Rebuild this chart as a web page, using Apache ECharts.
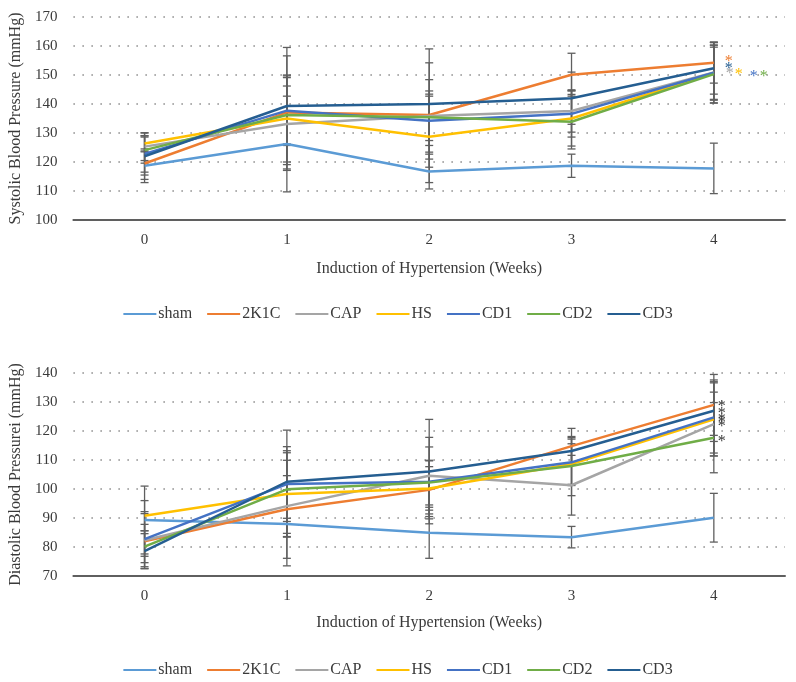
<!DOCTYPE html>
<html>
<head>
<meta charset="utf-8">
<script src="https://cdn.jsdelivr.net/npm/echarts@6/dist/echarts.min.js"></script>
<style>html,body{margin:0;padding:0;background:#fff;}#c{width:796px;height:682px;}</style>
</head>
<body>
<div id="c"></div>
<script>
// ---- data ----
const weeks = ['0', '1', '2', '3', '4'];
const groups = ['sham', '2K1C', 'CAP', 'HS', 'CD1', 'CD2', 'CD3'];
const sysTicks = [100, 110, 120, 130, 140, 150, 160, 170];
const diaTicks = [70, 80, 90, 100, 110, 120, 130, 140];

const sysSham = [118.7, 126.2, 116.7, 118.7, 117.8];
const sys2K1C = [119.5, 137.1, 136.2, 150.1, 154.2];
const sysCAP  = [125.3, 133.1, 135.9, 137.6, 150.9];
const sysHS   = [126.4, 135.0, 128.7, 135.0, 150.6];
const sysCD1  = [122.8, 137.7, 134.2, 136.6, 150.8];
const sysCD2  = [124.1, 136.2, 135.4, 133.9, 150.3];
const sysCD3  = [122.0, 139.3, 140.0, 142.0, 152.3];

const sysSdSham = [5.8, 16.5, 6.0, 4.0, 8.7];
const sysSd2K1C = [4.0, 19.5, 18.0, 7.4, 7.0];
const sysSdCAP  = [4.8, 16.0, 12.5, 7.3, 10.5];
const sysSdHS   = [2.6, 15.0, 15.8, 9.5, 9.0];
const sysSdCD1  = [6.3, 12.0, 8.5, 8.0, 9.5];
const sysSdCD2  = [4.5, 10.0, 8.0, 9.4, 10.0];
const sysSdCD3  = [8.0, 20.2, 19.0, 9.0, 8.9];

const diaSham = [89.3, 87.9, 84.9, 83.4, 90.1];
const dia2K1C = [82.0, 93.0, 99.7, 114.8, 129.0];
const diaCAP  = [82.3, 94.1, 104.6, 101.3, 122.4];
const diaHS   = [90.8, 98.3, 100.2, 108.6, 124.0];
const diaCD1  = [82.7, 101.7, 102.5, 109.2, 124.7];
const diaCD2  = [80.1, 99.9, 102.2, 107.9, 117.7];
const diaCD3  = [78.6, 102.5, 106.0, 113.1, 127.0];

const diaSdSham = [11.7, 11.8, 8.8, 3.7, 8.4];
const diaSd2K1C = [9.5, 19.5, 10.0, 6.1, 10.5];
const diaSdCAP  = [5.5, 10.5, 13.2, 10.3, 11.0];
const diaSdHS   = [5.2, 14.9, 7.5, 7.0, 12.6];
const diaSdCD1  = [9.5, 12.9, 12.0, 8.0, 12.3];
const diaSdCD2  = [5.5, 10.0, 7.7, 10.2, 12.1];
const diaSdCD3  = [6.0, 17.8, 18.0, 4.6, 10.6];

// significance marker at week 4
const sysMarks = ['', '*', '*', '*', '*', '*', '*'];
const diaMarks = ['', '*', '*', '*', '*', '*', '*'];

// ---- styles ----
const colors = ['#5B9BD5', '#ED7D31', '#A5A5A5', '#FFC000', '#4472C4', '#70AD47', '#255E91'];
const sysMarkOffsets = [[0,0], [3,-1], [4,1], [13,2], [28,4], [38,3], [3,0]];
const diaMarkOffsets = [[0,0], [-4,2], [-4,3], [-4,3], [-4,2], [-4,4], [-4,3]];
const font = "'Liberation Serif', 'Times New Roman', serif";
const txt = '#3a3a3a';

const sysMeans = [sysSham, sys2K1C, sysCAP, sysHS, sysCD1, sysCD2, sysCD3];
const sysSds = [sysSdSham, sysSd2K1C, sysSdCAP, sysSdHS, sysSdCD1, sysSdCD2, sysSdCD3];
const diaMeans = [diaSham, dia2K1C, diaCAP, diaHS, diaCD1, diaCD2, diaCD3];
const diaSds = [diaSdSham, diaSd2K1C, diaSdCAP, diaSdHS, diaSdCD1, diaSdCD2, diaSdCD3];

function errData(means, sds) {
  const out = [];
  means.forEach((m, g) => m.forEach((v, i) => out.push([i, v - sds[g][i], v + sds[g][i]])));
  return out;
}

function renderErr(params, api) {
  const x = api.value(0);
  const lo = api.coord([x, api.value(1)]);
  const hi = api.coord([x, api.value(2)]);
  const w = 4;
  const st = { stroke: '#5f5f5f', lineWidth: 1.3 };
  return {
    type: 'group',
    children: [
      { type: 'line', shape: { x1: lo[0], y1: lo[1], x2: hi[0], y2: hi[1] }, style: st },
      { type: 'line', shape: { x1: lo[0] - w, y1: lo[1], x2: lo[0] + w, y2: lo[1] }, style: st },
      { type: 'line', shape: { x1: hi[0] - w, y1: hi[1], x2: hi[0] + w, y2: hi[1] }, style: st }
    ]
  };
}

function xAxis(idx, gap) {
  return {
    type: 'category', gridIndex: idx, data: weeks, boundaryGap: true,
    name: 'Induction of Hypertension (Weeks)', nameLocation: 'middle', nameGap: gap,
    nameTextStyle: { fontFamily: font, fontSize: 16, color: txt },
    axisLine: { lineStyle: { color: '#5f5f5f', width: 2 } },
    axisTick: { show: false },
    axisLabel: { fontFamily: font, fontSize: 15, color: txt, margin: 13 }
  };
}
function yAxis(idx, ticks, name) {
  return {
    type: 'value', gridIndex: idx, min: ticks[0], max: ticks[ticks.length - 1], interval: 10,
    name: name, nameLocation: 'middle', nameGap: 45,
    nameTextStyle: { fontFamily: font, fontSize: 16, color: txt },
    axisLine: { show: false }, axisTick: { show: false },
    axisLabel: { fontFamily: font, fontSize: 15, color: txt, margin: 16 },
    splitLine: { lineStyle: { color: '#8a8a8a', type: [1.5, 7.5], width: 1.5 } }
  };
}

const series = [];
series.push({ type: 'custom', xAxisIndex: 0, yAxisIndex: 0, renderItem: renderErr, data: errData(sysMeans, sysSds), z: 1, silent: true });
series.push({ type: 'custom', xAxisIndex: 1, yAxisIndex: 1, renderItem: renderErr, data: errData(diaMeans, diaSds), z: 1, silent: true });
groups.forEach((g, i) => {
  series.push({
    name: g, type: 'line', xAxisIndex: 0, yAxisIndex: 0, data: sysMeans[i],
    showSymbol: false, z: 3, color: colors[i],
    lineStyle: { width: 2.5, color: colors[i] },
    endLabel: { show: sysMarks[i] !== '', formatter: sysMarks[i], color: colors[i], fontFamily: font, fontSize: 16, offset: sysMarkOffsets[i] }
  });
});
groups.forEach((g, i) => {
  series.push({
    name: g, type: 'line', xAxisIndex: 1, yAxisIndex: 1, data: diaMeans[i],
    showSymbol: false, z: 3, color: colors[i],
    lineStyle: { width: 2.5, color: colors[i] },
    endLabel: { show: diaMarks[i] !== '', formatter: diaMarks[i], color: '#333', fontFamily: font, fontSize: 16, offset: diaMarkOffsets[i] }
  });
});

function legend(top) {
  return {
    data: groups, top: top, left: 'center', icon: 'rect', itemWidth: 33, itemHeight: 2, itemGap: 15,
    textStyle: { fontFamily: font, fontSize: 16, color: txt, padding: [0, 0, 0, -3] }
  };
}

const chart = echarts.init(document.getElementById('c'));
chart.setOption({
  animation: false,
  backgroundColor: '#fff',
  grid: [
    { left: 72, right: 11, top: 17, height: 203 },
    { left: 72, right: 11, top: 373, height: 203 }
  ],
  xAxis: [xAxis(0, 41), xAxis(1, 39)],
  yAxis: [yAxis(0, sysTicks, 'Systolic Blood Pressure (mmHg)'), yAxis(1, diaTicks, 'Diastolic Blood Pressurei (mmHg)')],
  legend: [legend(301), legend(657)],
  series: series
});
</script>
</body>
</html>
